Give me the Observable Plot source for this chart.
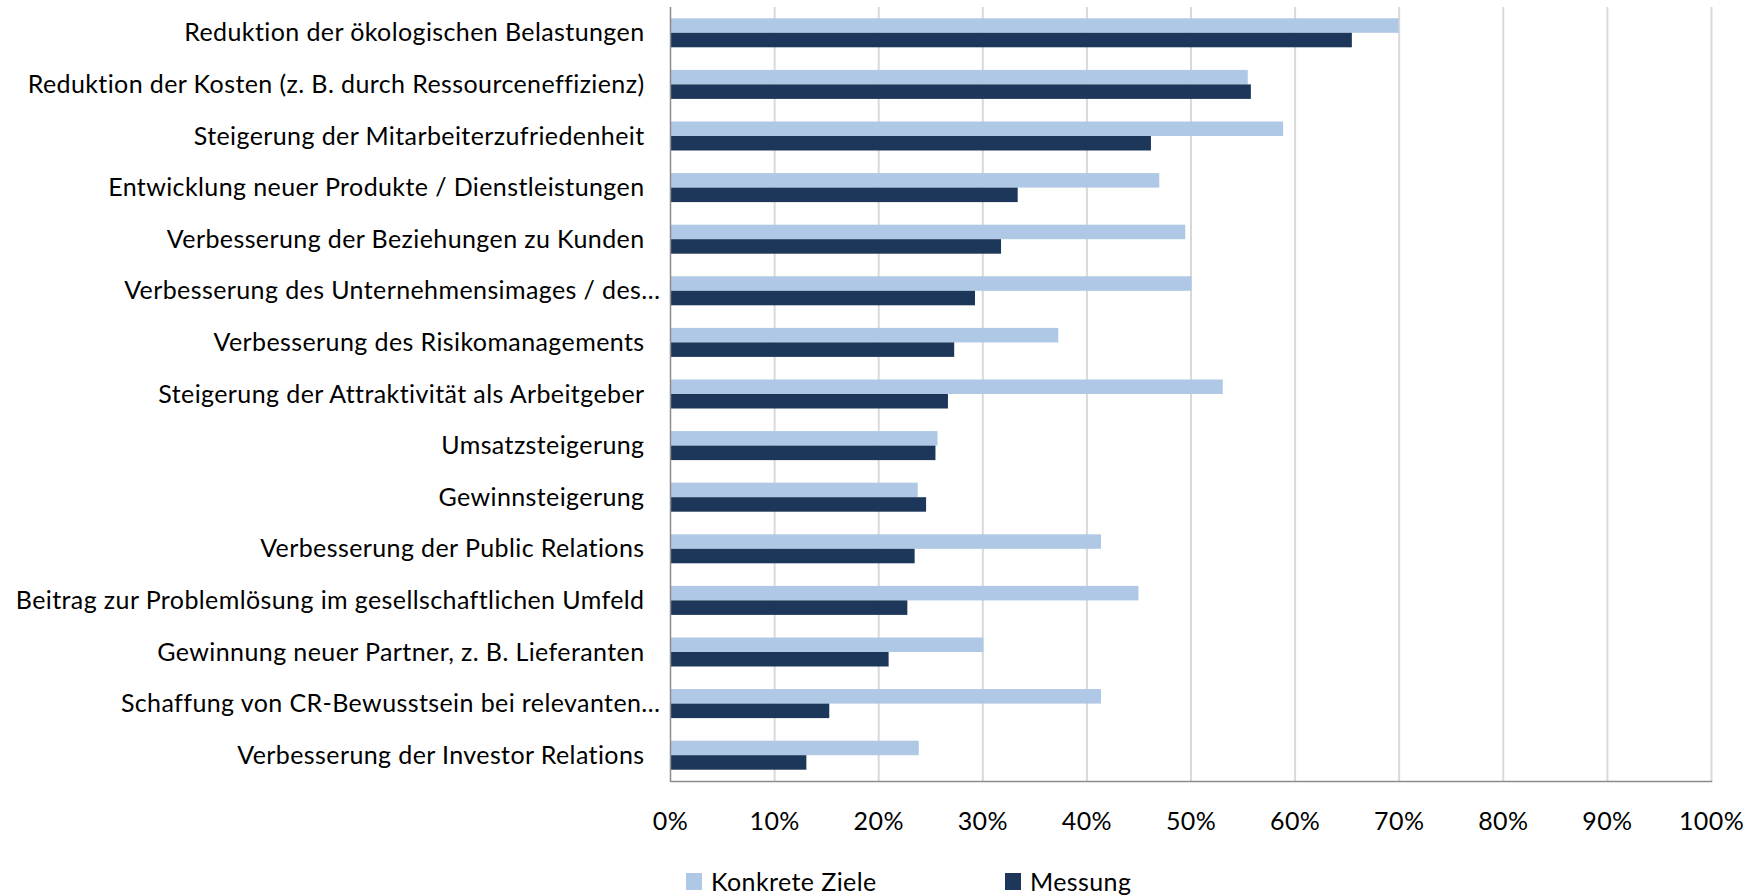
<!DOCTYPE html>
<html>
<head>
<meta charset="utf-8">
<script src="https://cdn.jsdelivr.net/npm/d3@7"></script>
<script src="https://cdn.jsdelivr.net/npm/@observablehq/plot@0.6"></script>
<style>
  html, body { margin: 0; padding: 0; background: #fff; }
  body { width: 1763px; height: 895px; position: relative; overflow: hidden; font-family: Lato, "Open Sans", sans-serif; }
  #chart { position: absolute; left: 0; top: 0; }
  #legend { position: absolute; left: 686px; top: 866px; display: flex; align-items: center; font-size: 25px; letter-spacing: 0.4px; color: #000; }
  .item { display: flex; align-items: center; width: 319px; }
  .sw { width: 16px; height: 17px; margin-right: 9px; }
</style>
</head>
<body>
<div id="chart"></div>
<div id="legend"></div>
<script>
const categories = [
  "Reduktion der ökologischen Belastungen",
  "Reduktion der Kosten (z. B. durch Ressourceneffizienz)",
  "Steigerung der Mitarbeiterzufriedenheit",
  "Entwicklung neuer Produkte / Dienstleistungen",
  "Verbesserung der Beziehungen zu Kunden",
  "Verbesserung des Unternehmensimages / des…",
  "Verbesserung des Risikomanagements",
  "Steigerung der Attraktivität als Arbeitgeber",
  "Umsatzsteigerung",
  "Gewinnsteigerung",
  "Verbesserung der Public Relations",
  "Beitrag zur Problemlösung im gesellschaftlichen Umfeld",
  "Gewinnung neuer Partner, z. B. Lieferanten",
  "Schaffung von CR-Bewusstsein bei relevanten…",
  "Verbesserung der Investor Relations"
];
const konkreteZiele = [0.700, 0.555, 0.589, 0.470, 0.495, 0.501, 0.373, 0.531, 0.257, 0.238, 0.414, 0.450, 0.301, 0.414, 0.239];
const messung       = [0.655, 0.558, 0.462, 0.334, 0.318, 0.293, 0.273, 0.267, 0.255, 0.246, 0.235, 0.228, 0.210, 0.153, 0.131];
const seriesNames = ["Konkrete Ziele", "Messung"];
const seriesColors = ["#afc8e6", "#1d375a"];
const tickValues = [0, 0.1, 0.2, 0.3, 0.4, 0.5, 0.6, 0.7, 0.8, 0.9, 1.0];
const tickLabels = ["0%", "10%", "20%", "30%", "40%", "50%", "60%", "70%", "80%", "90%", "100%"];

const rowsK = categories.map((c, i) => ({cat: c, series: seriesNames[0], value: konkreteZiele[i]}));
const rowsM = categories.map((c, i) => ({cat: c, series: seriesNames[1], value: messung[i]}));
const fullLabels = categories.filter(c => !c.endsWith("…"));
const cutLabels = categories.filter(c => c.endsWith("…"));

const half = 14.5;
const chart = Plot.plot({
  width: 1763,
  height: 860,
  marginLeft: 670,
  marginRight: 52,
  marginTop: 7,
  marginBottom: 79,
  style: {fontFamily: "Lato, 'Open Sans', sans-serif", fontSize: "25px", letterSpacing: "0.4px", color: "#000", background: "#fff"},
  x: {domain: [0, 1]},
  y: {domain: categories, paddingInner: 0.438, paddingOuter: 0.219, align: 0.5, round: false},
  marks: [
    Plot.ruleX(tickValues.slice(1), {stroke: "#d9d9d9", strokeWidth: 2}),
    Plot.barX(rowsK, {x: "value", y: "cat", fill: seriesColors[0], insetBottom: half}),
    Plot.barX(rowsM, {x: "value", y: "cat", fill: seriesColors[1], insetTop: half}),
    Plot.ruleX([0], {stroke: "#8c8c8c", strokeWidth: 1.5}),
    Plot.frame({anchor: "bottom", stroke: "#8c8c8c", strokeWidth: 1.5}),
    Plot.axisX(tickValues, {tickSize: 0, tickPadding: 31, tickFormat: (d, i) => tickLabels[i], label: null, fontSize: 25}),
    Plot.axisY(fullLabels, {tickSize: 0, tickPadding: 26, label: null, fontSize: 25}),
    Plot.axisY(cutLabels, {tickSize: 0, tickPadding: 10, label: null, fontSize: 25})
  ]
});
document.getElementById("chart").appendChild(chart);

const legend = document.getElementById("legend");
seriesNames.forEach((name, i) => {
  const item = document.createElement("div");
  item.className = "item";
  const sw = document.createElement("span");
  sw.className = "sw";
  sw.style.background = seriesColors[i];
  const t = document.createElement("span");
  t.textContent = name;
  item.appendChild(sw);
  item.appendChild(t);
  legend.appendChild(item);
});
</script>
</body>
</html>
